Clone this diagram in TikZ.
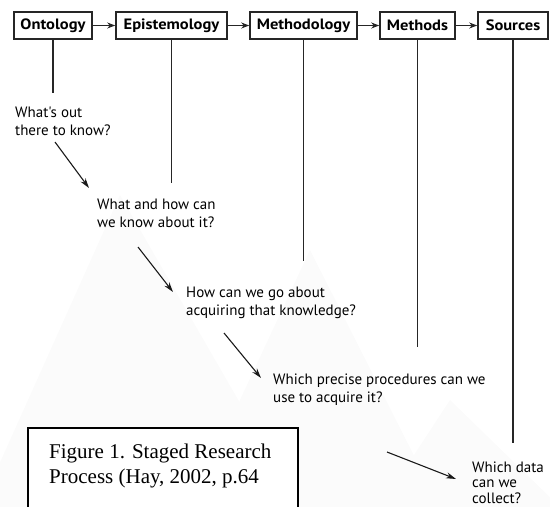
\documentclass[tikz,border=0pt]{standalone}
\usepackage{fontspec}
\setmainfont{Liberation Serif}
\newfontfamily\diagfont{PT Sans}
\newfontfamily\stagefont[FakeStretch=1.1]{PT Sans}
\usetikzlibrary{arrows.meta}

\begin{document}
\begin{tikzpicture}[x=1pt,y=-1pt,
  stage/.style={draw=black!85, line width=1.6pt, minimum height=27pt, inner sep=0pt,
                font=\stagefont\bfseries\fontsize{15}{17}\selectfont},
  flow/.style={-{Stealth[length=8pt,width=6pt]}, line width=1.3pt, draw=black!85},
  drop/.style={line width=1.8pt, draw=black!85},
  % multi-line nodes: the base anchor sits on the last line
  question/.style={anchor=base west, align=left, inner sep=0pt,
                   font=\diagfont\fontsize{15}{18}\selectfont},
  lead/.style={-{Stealth[length=10pt,width=6pt]}, line width=1.1pt, draw=black!90},
  caption/.style={anchor=base west, align=left, inner sep=0pt,
                  font=\fontsize{21}{25}\selectfont},
  haze/.style={fill=black!1.5, draw=none}
]
\useasboundingbox (0,0) rectangle (550,507);

% faint background shapes
\fill[haze] (-20,507) -- (120,195) -- (300,507) -- cycle;
\fill[haze] (190,507) -- (310,250) -- (440,507) -- cycle;
\fill[haze] (380,507) -- (450,400) -- (560,507) -- cycle;

% the five stages of the research process
\node[stage, minimum width=78pt]  (ont) at (53,25.5)    {Ontology};
\node[stage, minimum width=111pt] (epi) at (171.5,25.5) {Epistemology};
\node[stage, minimum width=107pt] (mth) at (303.5,25.5) {Methodology};
\node[stage, minimum width=75pt]  (mds) at (417.5,25.5) {Methods};
\node[stage, minimum width=70pt]  (src) at (513,25.5)   {Sources};

\draw[flow] (ont) -- (epi);
\draw[flow] (epi) -- (mth);
\draw[flow] (mth) -- (mds);
\draw[flow] (mds) -- (src);

% where each stage's drop line ends
\coordinate (ontEnd) at (53,93);
\coordinate (epiEnd) at (171.5,183);
\coordinate (mthEnd) at (303.5,261);
\coordinate (mdsEnd) at (417.5,347);
\coordinate (srcEnd) at (513,443);

\draw[drop] (ont.south) -- (ontEnd);
\draw[drop] (epi.south) -- (epiEnd);
\draw[drop] (mth.south) -- (mthEnd);
\draw[drop] (mds.south) -- (mdsEnd);
\draw[drop] (src.south) -- (srcEnd);

% the question asked at each stage
\node[question] (q1) at (15,135)  {What's out\\there to know?};
\node[question] (q2) at (97,227)  {What and how can\\we know about it?};
\node[question] (q3) at (186,315) {How can we go about\\acquiring that knowledge?};
\node[question] (q4) at (273,402) {Which precise procedures can we\\use to acquire it?};
\node[question, font=\diagfont\fontsize{15}{15.5}\selectfont] (q5) at (472,503) {Which data\\can we\\collect?};

% arrows leading from one question to the next
\coordinate (l1a) at (55,142);  \coordinate (l1b) at (89,188);
\coordinate (l2a) at (138,247); \coordinate (l2b) at (173,292);
\coordinate (l3a) at (224,333); \coordinate (l3b) at (261,378);
\coordinate (l4a) at (387,452); \coordinate (l4b) at (456,479);
\draw[lead] (l1a) -- (l1b);
\draw[lead] (l2a) -- (l2b);
\draw[lead] (l3a) -- (l3b);
\draw[lead] (l4a) -- (l4b);

% caption box
\coordinate (capTL) at (28,428);
\coordinate (capBR) at (298,515);
\fill[white] (capTL) rectangle (capBR);
\draw[line width=1.3pt] (capTL) rectangle (capBR);
\node[caption] (cap) at (49,483) {Figure 1. Staged Research\\Process (Hay, 2002, p.64};
\end{tikzpicture}
\end{document}
